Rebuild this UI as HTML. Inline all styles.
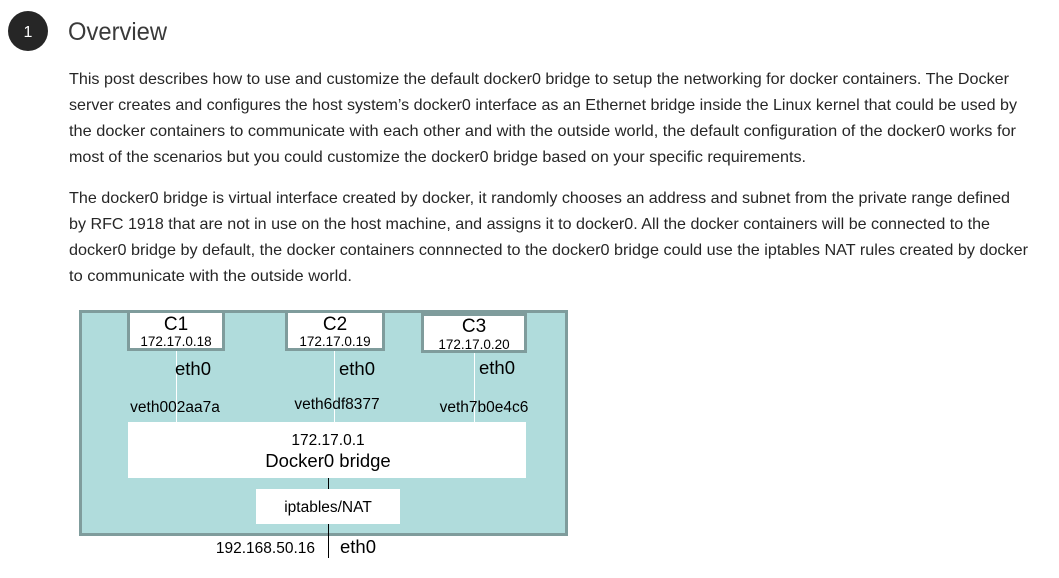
<!DOCTYPE html>
<html><head><meta charset="utf-8"><style>
html,body{margin:0;padding:0;background:#fff;width:1059px;height:578px;overflow:hidden}
svg{display:block}
.t{font-family:"Liberation Sans",sans-serif;font-size:16px;fill:#262626}
.d{font-family:"Liberation Sans",sans-serif;fill:#000}
</style></head><body>
<svg width="1059" height="578" viewBox="0 0 1059 578">
<circle cx="28" cy="31" r="20" fill="#262626"/>
<text x="28" y="37" text-anchor="middle" font-family="Liberation Sans,sans-serif" font-size="16" fill="#fff">1</text>
<text x="68" y="40" font-family="Liberation Sans,sans-serif" font-size="25" fill="#3a3a3a" textLength="99" lengthAdjust="spacingAndGlyphs">Overview</text>

<text class="t" x="69" y="84" textLength="940" lengthAdjust="spacingAndGlyphs">This post describes how to use and customize the default docker0 bridge to setup the networking for docker containers. The Docker</text>
<text class="t" x="69" y="110" textLength="948" lengthAdjust="spacingAndGlyphs">server creates and configures the host system’s docker0 interface as an Ethernet bridge inside the Linux kernel that could be used by</text>
<text class="t" x="69" y="136" textLength="947" lengthAdjust="spacingAndGlyphs">the docker containers to communicate with each other and with the outside world, the default configuration of the docker0 works for</text>
<text class="t" x="69" y="162" textLength="737" lengthAdjust="spacingAndGlyphs">most of the scenarios but you could customize the docker0 bridge based on your specific requirements.</text>

<text class="t" x="69" y="203" textLength="941" lengthAdjust="spacingAndGlyphs">The docker0 bridge is virtual interface created by docker, it randomly chooses an address and subnet from the private range defined</text>
<text class="t" x="69" y="229" textLength="921" lengthAdjust="spacingAndGlyphs">by RFC 1918 that are not in use on the host machine, and assigns it to docker0. All the docker containers will be connected to the</text>
<text class="t" x="69" y="255" textLength="959" lengthAdjust="spacingAndGlyphs">docker0 bridge by default, the docker containers connnected to the docker0 bridge could use the iptables NAT rules created by docker</text>
<text class="t" x="69" y="281" textLength="283" lengthAdjust="spacingAndGlyphs">to communicate with the outside world.</text>

<rect x="80.5" y="311.5" width="486" height="223" fill="#b0dcdc" stroke="#7f9c9c" stroke-width="3"/>
<rect x="128.5" y="311.5" width="95" height="38" fill="#fff" stroke="#7f9c9c" stroke-width="3"/>
<rect x="286.5" y="311.5" width="97" height="38" fill="#fff" stroke="#7f9c9c" stroke-width="3"/>
<rect x="422.5" y="314.5" width="103" height="37" fill="#fff" stroke="#7f9c9c" stroke-width="3"/>
<line x1="176.5" y1="351" x2="176.5" y2="422" stroke="#fff" stroke-width="1"/>
<line x1="334.5" y1="351" x2="334.5" y2="422" stroke="#fff" stroke-width="1"/>
<line x1="474.5" y1="353" x2="474.5" y2="422" stroke="#fff" stroke-width="1"/>
<rect x="128" y="422" width="398" height="56" fill="#fff"/>
<rect x="256" y="489" width="144" height="35" fill="#fff"/>
<line x1="328.5" y1="478" x2="328.5" y2="489" stroke="#000" stroke-width="1"/>
<line x1="328.5" y1="524" x2="328.5" y2="558" stroke="#000" stroke-width="1"/>

<text class="d" x="176" y="330" font-size="19" text-anchor="middle">C1</text>
<text class="d" x="176" y="346" font-size="13.5" text-anchor="middle">172.17.0.18</text>
<text class="d" x="335" y="330" font-size="19" text-anchor="middle">C2</text>
<text class="d" x="335" y="346" font-size="13.5" text-anchor="middle">172.17.0.19</text>
<text class="d" x="474" y="332" font-size="19" text-anchor="middle">C3</text>
<text class="d" x="474" y="349" font-size="13.5" text-anchor="middle">172.17.0.20</text>

<text class="d" x="193" y="375" font-size="18.5" text-anchor="middle">eth0</text>
<text class="d" x="357" y="375" font-size="18.5" text-anchor="middle">eth0</text>
<text class="d" x="497" y="374" font-size="18.5" text-anchor="middle">eth0</text>

<text class="d" x="175" y="412" font-size="15.5" text-anchor="middle">veth002aa7a</text>
<text class="d" x="337" y="409" font-size="15.5" text-anchor="middle">veth6df8377</text>
<text class="d" x="484" y="412" font-size="15.5" text-anchor="middle">veth7b0e4c6</text>

<text class="d" x="328" y="445" font-size="15.5" text-anchor="middle">172.17.0.1</text>
<text class="d" x="328" y="467" font-size="18.5" text-anchor="middle">Docker0 bridge</text>
<text class="d" x="328" y="512" font-size="15.5" text-anchor="middle">iptables/NAT</text>
<text class="d" x="315" y="553" font-size="15.5" text-anchor="end">192.168.50.16</text>
<text class="d" x="340" y="553" font-size="18.5">eth0</text>
</svg>
</body></html>
